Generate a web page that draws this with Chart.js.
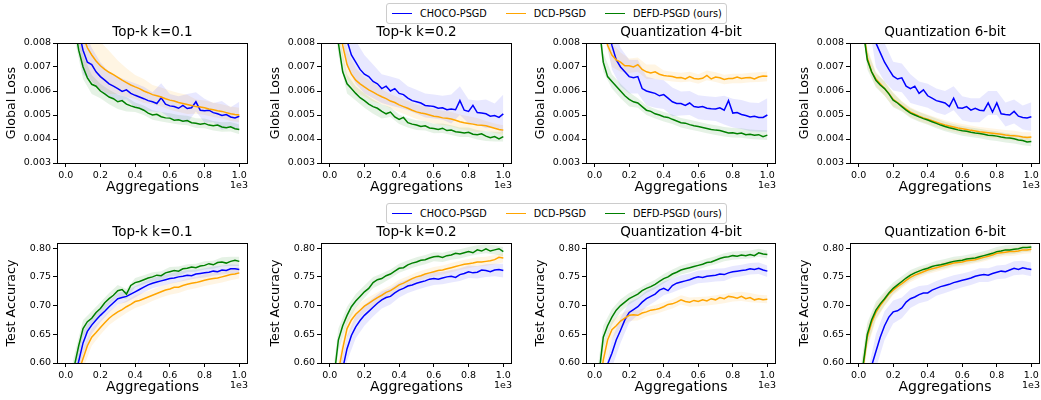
<!DOCTYPE html>
<html>
<head>
<meta charset="utf-8">
<script src="https://cdn.jsdelivr.net/npm/chart.js@4.4.0/dist/chart.umd.min.js"></script>
<style>
  body { margin: 0; background: #fff; width: 1041px; height: 400px; overflow: hidden; position: relative; }
  canvas { position: absolute; }
  .legend { position: absolute; left: 386px; width: 341px; height: 21px; box-sizing: border-box;
    border: 1px solid #cccccc; border-radius: 3px; background: #fff; display: flex; align-items: center;
    padding-left: 5px; font: 9.7px "DejaVu Sans", sans-serif; color: #000; white-space: nowrap; }
  .item { display: flex; align-items: center; flex-shrink: 0; margin-right: 19px; }
  .sw { display: inline-block; flex-shrink: 0; width: 20px; height: 1.5px; margin-right: 8px; }
</style>
</head>
<body>

<div class="legend" style="top:3px">
  <span class="item"><span class="sw" style="background:#0000ff"></span>CHOCO-PSGD</span>
  <span class="item"><span class="sw" style="background:#ffa500"></span>DCD-PSGD</span>
  <span class="item"><span class="sw" style="background:#008000"></span>DEFD-PSGD (ours)</span>
</div>
<div class="legend" style="top:203px">
  <span class="item"><span class="sw" style="background:#0000ff"></span>CHOCO-PSGD</span>
  <span class="item"><span class="sw" style="background:#ffa500"></span>DCD-PSGD</span>
  <span class="item"><span class="sw" style="background:#008000"></span>DEFD-PSGD (ours)</span>
</div>

<canvas id="c0" width="262" height="180" style="left:0px;top:20px"></canvas>
<canvas id="c1" width="262" height="180" style="left:264px;top:20px"></canvas>
<canvas id="c2" width="261" height="180" style="left:529px;top:20px"></canvas>
<canvas id="c3" width="261" height="180" style="left:793px;top:20px"></canvas>
<canvas id="c4" width="262" height="180" style="left:0px;top:220px"></canvas>
<canvas id="c5" width="262" height="180" style="left:264px;top:220px"></canvas>
<canvas id="c6" width="261" height="180" style="left:529px;top:220px"></canvas>
<canvas id="c7" width="261" height="180" style="left:793px;top:220px"></canvas>

<script>
const FONT = '"DejaVu Sans", sans-serif';

const seriesNames = ['CHOCO-PSGD', 'DCD-PSGD', 'DEFD-PSGD (ours)'];
const panelTitles = ['Top-k k=0.1', 'Top-k k=0.2', 'Quantization 4-bit', 'Quantization 6-bit'];

// aggregations (x), lines sampled every 25, std bands every 50
const aggLine = [0,25,50,75,100,125,150,175,200,225,250,275,300,325,350,375,400,425,450,475,500,
  525,550,575,600,625,650,675,700,725,750,775,800,825,850,875,900,925,950,975,1000];
const aggBand = [0,50,100,150,200,250,300,350,400,450,500,550,600,650,700,750,800,850,900,950,1000];

const xTickVals = [0, 200, 400, 600, 800, 1000];
const lossTicks = [0.003, 0.004, 0.005, 0.006, 0.007, 0.008];
const accTicks = [0.60, 0.65, 0.70, 0.75, 0.80];

// ---- Global loss ----
const lossTopk01Choco = [0.0135,0.0115,0.0097,0.0085,0.0077,0.0072,0.0071,0.0068,0.0066,0.00645,0.0063,0.0062,0.0061,0.00598,0.00605,0.0059,0.00582,0.00575,0.00568,0.0056,0.00555,
  0.00548,0.00572,0.00545,0.00538,0.00535,0.00528,0.0054,0.00527,0.0053,0.00555,0.0052,0.00518,0.0052,0.0051,0.00505,0.00498,0.00502,0.00492,0.00488,0.00495];
const lossTopk01Dcd = [0.014,0.012,0.0105,0.0092,0.0083,0.0078,0.0075,0.00725,0.00705,0.0069,0.00678,0.00668,0.00657,0.00645,0.00635,0.00625,0.00617,0.0061,0.006,0.00593,0.00585,
  0.0058,0.00575,0.00568,0.00562,0.00558,0.00552,0.00548,0.00544,0.0054,0.00535,0.00533,0.0053,0.00525,0.00522,0.00518,0.00515,0.0051,0.00505,0.00502,0.005];
const lossTopk01Defd = [0.0125,0.0105,0.0088,0.0077,0.0070,0.00655,0.00628,0.0062,0.0060,0.00588,0.00575,0.00568,0.00555,0.0056,0.00545,0.00538,0.00532,0.00528,0.0052,0.00508,0.0050,
  0.00503,0.00493,0.00488,0.00487,0.00478,0.0048,0.00474,0.00477,0.00468,0.00466,0.00462,0.00465,0.00458,0.00455,0.00458,0.0045,0.00447,0.00451,0.00443,0.0044];

const lossTopk02Choco = [0.014,0.012,0.0104,0.0091,0.0081,0.0075,0.0072,0.0069,0.0067,0.0066,0.0064,0.0063,0.0061,0.0062,0.006,0.0061,0.0059,0.00585,0.0057,0.0056,0.00555,
  0.0055,0.0054,0.00538,0.00535,0.00528,0.0053,0.00522,0.00525,0.00522,0.0056,0.0052,0.00515,0.0054,0.0051,0.00508,0.00505,0.00495,0.00498,0.0049,0.00505];
const lossTopk02Dcd = [0.0125,0.0105,0.009,0.0079,0.0071,0.0067,0.00645,0.0063,0.00617,0.00605,0.00595,0.00585,0.00576,0.00568,0.00558,0.00552,0.00542,0.00535,0.00528,0.0052,0.00513,
  0.00508,0.00505,0.005,0.00495,0.00493,0.00488,0.00486,0.00483,0.00478,0.00472,0.00468,0.00465,0.00462,0.00458,0.00457,0.00455,0.0045,0.00445,0.0044,0.00437];
const lossTopk02Defd = [0.011,0.0092,0.008,0.0068,0.0063,0.0061,0.0059,0.00572,0.0056,0.00545,0.00535,0.00528,0.00515,0.00505,0.00512,0.00492,0.00482,0.0049,0.00468,0.00462,0.00458,
  0.00452,0.00455,0.00446,0.00444,0.0044,0.00445,0.00435,0.00437,0.0043,0.00428,0.00425,0.00428,0.0042,0.00418,0.00422,0.00412,0.00405,0.0041,0.004,0.0041];

const lossQ4Choco = [0.0135,0.0115,0.0099,0.0087,0.0079,0.0073,0.0070,0.0068,0.0066,0.00655,0.0066,0.0061,0.0060,0.00595,0.0059,0.0058,0.00585,0.0057,0.00555,0.00548,0.00548,
  0.0054,0.0055,0.00535,0.00532,0.00535,0.00528,0.00526,0.00525,0.0053,0.0052,0.0056,0.00508,0.0051,0.00502,0.00498,0.00492,0.00495,0.0049,0.0049,0.005];
const lossQ4Dcd = [0.0125,0.0105,0.009,0.0079,0.0075,0.0073,0.0072,0.00705,0.00705,0.0070,0.0071,0.0069,0.0068,0.00675,0.0068,0.0067,0.00665,0.00662,0.0066,0.00655,0.00656,
  0.0065,0.0066,0.00652,0.0065,0.00653,0.00665,0.0065,0.00658,0.00655,0.00648,0.00652,0.00652,0.00658,0.00652,0.00655,0.00656,0.0065,0.00658,0.00662,0.00661];
const lossQ4Defd = [0.0105,0.0088,0.0072,0.0066,0.0064,0.0062,0.006,0.0058,0.00565,0.00555,0.0055,0.00535,0.0052,0.00515,0.00505,0.005,0.00493,0.0049,0.00482,0.00475,0.00468,
  0.00466,0.0046,0.00455,0.00452,0.00448,0.00444,0.0044,0.00437,0.00435,0.0043,0.00425,0.00426,0.00422,0.00425,0.00418,0.0042,0.00416,0.00418,0.0041,0.00416];

const lossQ6Choco = [0.014,0.012,0.0104,0.009,0.008,0.0076,0.0072,0.0069,0.00662,0.0065,0.00655,0.0062,0.0061,0.0062,0.0059,0.00605,0.0058,0.0057,0.0056,0.00555,0.0055,
  0.00535,0.0057,0.0053,0.00528,0.00535,0.0052,0.00528,0.0052,0.00518,0.0055,0.00512,0.0055,0.00505,0.00502,0.005,0.00515,0.00495,0.0049,0.00488,0.00493];
const lossQ6Dcd = [0.0105,0.0087,0.0074,0.0068,0.0065,0.0063,0.0061,0.0059,0.00565,0.00552,0.00538,0.00525,0.00512,0.00503,0.00495,0.00488,0.00482,0.00476,0.0047,0.00464,0.00458,
  0.00454,0.0045,0.00446,0.00443,0.0044,0.00436,0.00433,0.0043,0.00428,0.00426,0.00424,0.00422,0.0042,0.00417,0.00415,0.00414,0.00412,0.00408,0.00406,0.00408];
const lossQ6Defd = [0.0105,0.0086,0.0073,0.0068,0.00645,0.00625,0.0061,0.00588,0.00562,0.0055,0.00535,0.0052,0.00508,0.005,0.00492,0.00485,0.00479,0.00472,0.00465,0.00458,0.00452,
  0.00447,0.00443,0.00438,0.00434,0.00432,0.00428,0.00425,0.00423,0.0042,0.00416,0.00415,0.00412,0.00408,0.00405,0.00404,0.00401,0.00396,0.00394,0.00388,0.0039];

// std bands (half width) for loss
const lossTopk01ChocoSd = [0.0012,0.0012,0.001,0.0007,0.0006,0.0005,0.0005,0.0004,0.0005,0.0005,0.0004,0.0006,0.0005,0.0005,0.0006,0.0004,0.0005,0.0004,0.0006,0.0004,0.0006];
const lossTopk01DcdSd = [0.0015,0.0015,0.0013,0.0011,0.001,0.0009,0.0007,0.0006,0.0005,0.0005,0.0004,0.0004,0.0004,0.0004,0.0004,0.0003,0.0003,0.0003,0.0003,0.0003,0.0003];
const lossTopk01DefdSd = [0.0006,0.0006,0.0005,0.0004,0.0003,0.0003,0.0003,0.0003,0.0002,0.0002,0.0002,0.0002,0.0002,0.0002,0.0002,0.0002,0.0002,0.0002,0.0002,0.0002,0.0002];
const lossTopk02ChocoSd = [0.0012,0.0012,0.0011,0.0009,0.0008,0.0007,0.0006,0.0006,0.0006,0.0005,0.0005,0.0005,0.0005,0.0005,0.0006,0.0006,0.0005,0.0005,0.0006,0.0005,0.0008];
const lossTopk02DcdSd = [0.0008,0.0008,0.0006,0.0005,0.0004,0.0004,0.0003,0.0003,0.0003,0.0003,0.0003,0.0003,0.0003,0.0003,0.0003,0.0003,0.0003,0.0003,0.0002,0.0002,0.0002];
const lossTopk02DefdSd = [0.0005,0.0005,0.0004,0.0003,0.0003,0.0003,0.0003,0.0002,0.0002,0.0002,0.0002,0.0002,0.0002,0.0002,0.0002,0.0002,0.0002,0.0002,0.0002,0.0002,0.0002];
const lossQ4ChocoSd = [0.0012,0.0012,0.001,0.0008,0.0007,0.0007,0.0006,0.0006,0.0006,0.0006,0.0005,0.0005,0.0005,0.0005,0.0005,0.0006,0.0006,0.0006,0.0006,0.0006,0.0007];
const lossQ4DcdSd = [0.0006,0.0006,0.0005,0.0004,0.0003,0.0003,0.0003,0.0003,0.0002,0.0002,0.0002,0.0002,0.0002,0.0002,0.0002,0.0002,0.0002,0.0002,0.0002,0.0002,0.0002];
const lossQ4DefdSd = [0.0004,0.0004,0.0003,0.0003,0.0003,0.0002,0.0002,0.0002,0.0002,0.0002,0.0002,0.0002,0.0002,0.0002,0.0002,0.0002,0.0002,0.0002,0.0002,0.0002,0.0002];
const lossQ6ChocoSd = [0.0012,0.0012,0.001,0.0008,0.0006,0.0006,0.0006,0.0005,0.0005,0.0005,0.0005,0.0005,0.0005,0.0005,0.0005,0.0005,0.0005,0.0005,0.0005,0.0005,0.0006];
const lossQ6DcdSd = [0.0004,0.0004,0.0003,0.0003,0.0003,0.0002,0.0002,0.0002,0.0002,0.0002,0.0002,0.0002,0.0002,0.0002,0.0002,0.0002,0.0002,0.0002,0.0002,0.0002,0.0002];
const lossQ6DefdSd = [0.0004,0.0004,0.0003,0.0003,0.0003,0.0002,0.0002,0.0002,0.0002,0.0002,0.0002,0.0002,0.0002,0.0002,0.0002,0.0002,0.0002,0.0002,0.0002,0.0002,0.0002];

// ---- Test accuracy ----
const accTopk01Choco = [0.5,0.54,0.575,0.603,0.635,0.655,0.666,0.675,0.683,0.69,0.698,0.705,0.712,0.714,0.716,0.72,0.724,0.728,0.732,0.736,0.739,
  0.741,0.743,0.745,0.747,0.748,0.75,0.751,0.753,0.752,0.755,0.756,0.757,0.758,0.76,0.759,0.762,0.761,0.764,0.764,0.763];
const accTopk01Dcd = [0.48,0.52,0.555,0.585,0.608,0.63,0.645,0.653,0.662,0.67,0.678,0.684,0.689,0.693,0.698,0.702,0.707,0.709,0.712,0.715,0.718,
  0.721,0.724,0.727,0.729,0.732,0.732,0.735,0.737,0.739,0.74,0.742,0.744,0.746,0.747,0.748,0.75,0.752,0.754,0.755,0.757];
const accTopk01Defd = [0.52,0.56,0.595,0.63,0.66,0.672,0.678,0.688,0.695,0.705,0.712,0.718,0.726,0.728,0.72,0.735,0.74,0.742,0.745,0.748,0.75,
  0.753,0.752,0.757,0.759,0.761,0.76,0.764,0.765,0.767,0.766,0.769,0.77,0.773,0.771,0.775,0.776,0.774,0.777,0.779,0.777];

const accTopk02Choco = [0.48,0.52,0.555,0.59,0.625,0.648,0.663,0.674,0.683,0.69,0.697,0.704,0.71,0.714,0.716,0.722,0.727,0.73,0.734,0.736,0.739,
  0.741,0.743,0.746,0.747,0.746,0.748,0.75,0.751,0.749,0.754,0.756,0.759,0.757,0.758,0.762,0.761,0.759,0.762,0.763,0.761];
const accTopk02Dcd = [0.5,0.54,0.585,0.625,0.66,0.675,0.685,0.692,0.699,0.704,0.709,0.714,0.718,0.723,0.726,0.731,0.736,0.739,0.743,0.747,0.75,
  0.752,0.755,0.757,0.759,0.761,0.762,0.764,0.766,0.768,0.77,0.772,0.773,0.774,0.776,0.776,0.777,0.778,0.78,0.784,0.783];
const accTopk02Defd = [0.52,0.575,0.64,0.665,0.683,0.698,0.708,0.716,0.724,0.73,0.74,0.745,0.747,0.752,0.755,0.76,0.765,0.766,0.771,0.774,0.776,
  0.779,0.78,0.783,0.785,0.786,0.784,0.787,0.788,0.791,0.79,0.792,0.794,0.792,0.797,0.795,0.799,0.795,0.797,0.799,0.794];

const accQ4Choco = [0.47,0.51,0.55,0.598,0.617,0.64,0.657,0.675,0.688,0.693,0.698,0.706,0.712,0.716,0.72,0.727,0.73,0.726,0.735,0.739,0.741,
  0.743,0.745,0.748,0.75,0.749,0.751,0.752,0.753,0.755,0.754,0.757,0.759,0.76,0.761,0.762,0.764,0.763,0.765,0.762,0.76];
const accQ4Dcd = [0.5,0.55,0.605,0.64,0.658,0.665,0.673,0.678,0.683,0.684,0.683,0.687,0.689,0.692,0.693,0.695,0.698,0.702,0.703,0.706,0.71,
  0.707,0.706,0.709,0.707,0.71,0.708,0.712,0.71,0.714,0.712,0.716,0.715,0.713,0.716,0.712,0.714,0.71,0.712,0.71,0.711];
const accQ4Defd = [0.53,0.58,0.645,0.665,0.68,0.692,0.7,0.706,0.712,0.716,0.72,0.726,0.73,0.733,0.737,0.742,0.747,0.75,0.755,0.758,0.762,
  0.764,0.766,0.768,0.77,0.772,0.775,0.776,0.779,0.782,0.784,0.785,0.787,0.786,0.788,0.787,0.789,0.787,0.792,0.79,0.789];

const accQ6Choco = [0.47,0.51,0.55,0.595,0.62,0.645,0.665,0.68,0.689,0.691,0.696,0.706,0.712,0.715,0.719,0.722,0.722,0.727,0.73,0.733,0.735,
  0.737,0.74,0.742,0.744,0.746,0.748,0.751,0.753,0.754,0.753,0.756,0.758,0.76,0.759,0.762,0.765,0.763,0.766,0.764,0.763];
const accQ6Dcd = [0.54,0.59,0.645,0.67,0.688,0.7,0.71,0.72,0.727,0.733,0.738,0.744,0.749,0.753,0.756,0.759,0.762,0.764,0.766,0.768,0.77,
  0.772,0.774,0.775,0.776,0.778,0.779,0.78,0.782,0.784,0.786,0.788,0.791,0.792,0.793,0.794,0.794,0.795,0.797,0.797,0.798];
const accQ6Defd = [0.55,0.595,0.65,0.675,0.692,0.703,0.712,0.722,0.73,0.736,0.742,0.748,0.753,0.757,0.76,0.763,0.765,0.768,0.77,0.771,0.773,
  0.775,0.777,0.778,0.779,0.781,0.782,0.783,0.785,0.787,0.789,0.791,0.794,0.795,0.797,0.797,0.798,0.799,0.801,0.801,0.802];

// std bands (half width) for accuracy
const accTopk01ChocoSd = [0.02,0.02,0.02,0.015,0.012,0.01,0.01,0.01,0.01,0.009,0.009,0.009,0.009,0.009,0.009,0.008,0.008,0.008,0.008,0.008,0.008];
const accTopk01DcdSd = [0.02,0.02,0.018,0.015,0.013,0.012,0.012,0.011,0.011,0.011,0.01,0.01,0.01,0.01,0.01,0.01,0.01,0.01,0.01,0.01,0.01];
const accTopk01DefdSd = [0.02,0.02,0.015,0.012,0.011,0.01,0.01,0.009,0.008,0.008,0.008,0.008,0.008,0.008,0.007,0.007,0.007,0.007,0.008,0.008,0.008];
const accTopk02ChocoSd = [0.025,0.025,0.022,0.02,0.018,0.016,0.015,0.014,0.013,0.012,0.012,0.011,0.011,0.011,0.011,0.011,0.011,0.011,0.011,0.011,0.012];
const accTopk02DcdSd = [0.02,0.02,0.016,0.013,0.011,0.01,0.009,0.009,0.009,0.008,0.008,0.008,0.008,0.008,0.008,0.008,0.008,0.008,0.008,0.008,0.008];
const accTopk02DefdSd = [0.02,0.02,0.015,0.012,0.011,0.01,0.009,0.008,0.008,0.008,0.008,0.008,0.008,0.008,0.008,0.008,0.008,0.008,0.008,0.008,0.008];
const accQ4ChocoSd = [0.025,0.025,0.025,0.022,0.018,0.015,0.014,0.013,0.012,0.012,0.012,0.011,0.011,0.011,0.011,0.011,0.01,0.01,0.01,0.01,0.01];
const accQ4DcdSd = [0.02,0.02,0.016,0.012,0.01,0.009,0.008,0.008,0.008,0.008,0.008,0.008,0.008,0.008,0.008,0.008,0.008,0.008,0.008,0.007,0.007];
const accQ4DefdSd = [0.02,0.02,0.014,0.011,0.01,0.009,0.008,0.008,0.008,0.008,0.008,0.008,0.007,0.007,0.007,0.007,0.007,0.007,0.007,0.007,0.007];
const accQ6ChocoSd = [0.03,0.03,0.03,0.025,0.02,0.018,0.016,0.015,0.014,0.013,0.013,0.013,0.012,0.012,0.012,0.012,0.012,0.012,0.012,0.012,0.012];
const accQ6DcdSd = [0.02,0.02,0.014,0.011,0.009,0.008,0.008,0.008,0.007,0.007,0.007,0.007,0.007,0.007,0.007,0.007,0.007,0.007,0.007,0.007,0.007];
const accQ6DefdSd = [0.02,0.02,0.015,0.012,0.01,0.009,0.009,0.008,0.008,0.008,0.008,0.008,0.008,0.008,0.008,0.008,0.008,0.008,0.008,0.008,0.008];

const lineColors = ['#0000ff', '#ffa500', '#008000'];
const bandColors = ['rgba(0,0,255,0.09)', 'rgba(255,165,0,0.11)', 'rgba(0,128,0,0.1)'];

const panels = [
  { id: 'c0', title: panelTitles[0], yLabel: 'Global Loss', yTicks: lossTicks, yMin: 0.003, yMax: 0.008, digits: 3,
    lines: [lossTopk01Choco, lossTopk01Dcd, lossTopk01Defd], bands: [lossTopk01ChocoSd, lossTopk01DcdSd, lossTopk01DefdSd] },
  { id: 'c1', title: panelTitles[1], yLabel: 'Global Loss', yTicks: lossTicks, yMin: 0.003, yMax: 0.008, digits: 3,
    lines: [lossTopk02Choco, lossTopk02Dcd, lossTopk02Defd], bands: [lossTopk02ChocoSd, lossTopk02DcdSd, lossTopk02DefdSd] },
  { id: 'c2', title: panelTitles[2], yLabel: 'Global Loss', yTicks: lossTicks, yMin: 0.003, yMax: 0.008, digits: 3,
    lines: [lossQ4Choco, lossQ4Dcd, lossQ4Defd], bands: [lossQ4ChocoSd, lossQ4DcdSd, lossQ4DefdSd] },
  { id: 'c3', title: panelTitles[3], yLabel: 'Global Loss', yTicks: lossTicks, yMin: 0.003, yMax: 0.008, digits: 3,
    lines: [lossQ6Choco, lossQ6Dcd, lossQ6Defd], bands: [lossQ6ChocoSd, lossQ6DcdSd, lossQ6DefdSd] },
  { id: 'c4', title: panelTitles[0], yLabel: 'Test Accuracy', yTicks: accTicks, yMin: 0.6, yMax: 0.809, digits: 2,
    lines: [accTopk01Choco, accTopk01Dcd, accTopk01Defd], bands: [accTopk01ChocoSd, accTopk01DcdSd, accTopk01DefdSd] },
  { id: 'c5', title: panelTitles[1], yLabel: 'Test Accuracy', yTicks: accTicks, yMin: 0.6, yMax: 0.809, digits: 2,
    lines: [accTopk02Choco, accTopk02Dcd, accTopk02Defd], bands: [accTopk02ChocoSd, accTopk02DcdSd, accTopk02DefdSd] },
  { id: 'c6', title: panelTitles[2], yLabel: 'Test Accuracy', yTicks: accTicks, yMin: 0.6, yMax: 0.809, digits: 2,
    lines: [accQ4Choco, accQ4Dcd, accQ4Defd], bands: [accQ4ChocoSd, accQ4DcdSd, accQ4DefdSd] },
  { id: 'c7', title: panelTitles[3], yLabel: 'Test Accuracy', yTicks: accTicks, yMin: 0.6, yMax: 0.809, digits: 2,
    lines: [accQ6Choco, accQ6Dcd, accQ6Defd], bands: [accQ6ChocoSd, accQ6DcdSd, accQ6DefdSd] }
];

// box round the plot area (matplotlib spines) and the "1e3" offset text
const framePlugin = {
  id: 'frame',
  afterDraw(chart) {
    const { ctx, chartArea: a } = chart;
    ctx.save();
    ctx.strokeStyle = '#000';
    ctx.lineWidth = 1;
    ctx.strokeRect(Math.round(a.left) + 0.5, Math.round(a.top) + 0.5,
      Math.round(a.right - a.left) - 1, Math.round(a.bottom - a.top));
    ctx.fillStyle = '#000';
    ctx.font = '9.5px ' + FONT;
    ctx.textAlign = 'right';
    ctx.textBaseline = 'middle';
    ctx.fillText('1e3', a.right, a.bottom + 22.5);
    ctx.restore();
  }
};

function buildDatasets(p) {
  const sets = [];
  p.lines.forEach((vals, k) => {
    sets.push({
      label: seriesNames[k],
      data: aggLine.map((x, i) => ({ x: x, y: vals[i] })),
      borderColor: lineColors[k],
      borderWidth: 1.5,
      pointRadius: 0,
      tension: 0,
      fill: false,
      order: 2 - k
    });
  });
  p.bands.forEach((sd, k) => {
    const center = p.lines[k];
    const lowIdx = sets.length;
    sets.push({
      label: seriesNames[k] + ' low',
      data: aggBand.map((x, i) => ({ x: x, y: center[i * 2] - sd[i] })),
      borderWidth: 0, pointRadius: 0, tension: 0, fill: false, order: 5
    });
    sets.push({
      label: seriesNames[k] + ' high',
      data: aggBand.map((x, i) => ({ x: x, y: center[i * 2] + sd[i] })),
      borderWidth: 0, pointRadius: 0, tension: 0,
      fill: lowIdx, backgroundColor: bandColors[k], order: 5
    });
  });
  return sets;
}

panels.forEach(p => {
  new Chart(document.getElementById(p.id), {
    type: 'line',
    data: { datasets: buildDatasets(p) },
    options: {
      responsive: false,
      animation: false,
      events: [],
      layout: { padding: { left: 0, right: 14, top: 0, bottom: 4 } },
      plugins: {
        legend: { display: false },
        tooltip: { enabled: false },
        title: {
          display: true, text: p.title, fullSize: false, color: '#000',
          font: { family: FONT, size: 13.5, weight: 'normal', lineHeight: 1.2 },
          padding: { top: 4.4, bottom: 2.4 }
        }
      },
      scales: {
        x: {
          type: 'linear', min: -50, max: 1050,
          afterFit: s => { s.height = 33; },
          afterBuildTicks: s => { s.ticks = xTickVals.map(v => ({ value: v })); },
          ticks: { callback: v => (v / 1000).toFixed(1), color: '#000', padding: 3, maxRotation: 0, autoSkip: false,
            font: { family: FONT, size: 9.5 } },
          grid: { display: true, drawOnChartArea: false, drawTicks: true, tickLength: 4, color: '#000' },
          border: { display: false },
          title: { display: true, text: 'Aggregations', color: '#000', font: { family: FONT, size: 14 },
            padding: { top: 0, bottom: 0 } }
        },
        y: {
          type: 'linear', min: p.yMin, max: p.yMax,
          afterFit: s => { s.width = 57; },
          afterBuildTicks: s => { s.ticks = p.yTicks.map(v => ({ value: v })); },
          ticks: { callback: v => v.toFixed(p.digits), color: '#000', padding: 2, autoSkip: false,
            font: { family: FONT, size: 9.5 } },
          grid: { display: true, drawOnChartArea: false, drawTicks: true, tickLength: 4, color: '#000' },
          border: { display: false },
          title: { display: true, text: p.yLabel, color: '#000', font: { family: FONT, size: 12.7 },
            padding: { top: 4.5, bottom: 0 } }
        }
      }
    },
    plugins: [framePlugin]
  });
});
</script>
</body>
</html>
